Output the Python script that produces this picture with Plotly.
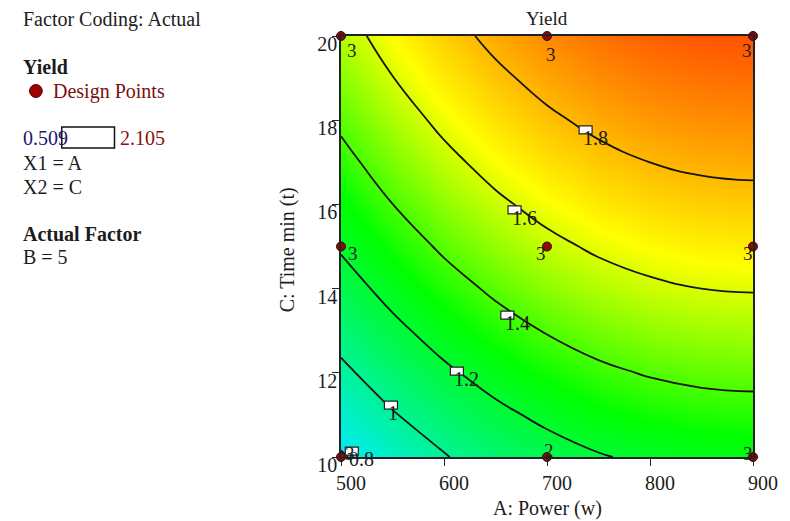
import plotly.graph_objects as go

# ---------------- data ----------------
power_vals = [500, 550, 600, 650, 700, 750, 800, 850, 900]          # A: Power (w)
time_vals = [10, 11, 12, 13, 14, 15, 16, 17, 18, 19, 20]            # C: Time min (t)
# Yield surface (rows = time, cols = power)
yield_grid = [
    [0.785, 0.895, 0.991, 1.072, 1.138, 1.190, 1.226, 1.248, 1.256],
    [0.879, 0.989, 1.085, 1.166, 1.232, 1.284, 1.320, 1.342, 1.350],
    [0.969, 1.079, 1.175, 1.256, 1.322, 1.374, 1.410, 1.432, 1.440],
    [1.055, 1.165, 1.261, 1.342, 1.408, 1.460, 1.496, 1.518, 1.526],
    [1.137, 1.247, 1.343, 1.424, 1.490, 1.542, 1.578, 1.600, 1.608],
    [1.215, 1.325, 1.421, 1.502, 1.568, 1.620, 1.656, 1.678, 1.686],
    [1.289, 1.399, 1.495, 1.576, 1.642, 1.694, 1.730, 1.752, 1.760],
    [1.359, 1.469, 1.565, 1.646, 1.712, 1.764, 1.800, 1.822, 1.830],
    [1.425, 1.535, 1.631, 1.712, 1.778, 1.830, 1.866, 1.888, 1.896],
    [1.487, 1.597, 1.693, 1.774, 1.840, 1.892, 1.928, 1.950, 1.958],
    [1.545, 1.655, 1.751, 1.832, 1.898, 1.950, 1.986, 2.008, 2.016],
]
yield_min, yield_max = 0.509, 2.105
contour_levels = [0.8, 1.0, 1.2, 1.4, 1.6, 1.8]
contour_label_text = ["0.8", "1", "1.2", "1.4", "1.6", "1.8"]
contour_label_power = [510, 548, 612, 661, 668, 737]
contour_label_time = [10.14, 11.23, 12.04, 13.37, 15.87, 17.77]

design_power = [500, 700, 900, 500, 700, 900, 500, 700, 900]
design_time = [20, 20, 20, 15, 15, 15, 10, 10, 10]
design_reps = [3, 3, 3, 3, 3, 3, 3, 2, 3]
x_ticks = [500, 600, 700, 800, 900]
y_ticks = [10, 12, 14, 16, 18, 20]

# ---------------- style ----------------
FONT = "Liberation Serif"
TXT = "#1c1c1c"
W, H = 790, 521
L, R, T, B = 341, 763, 36, 457


def px(xp):
    return (xp - L) / (R - L)


def py(yp):
    return (B - yp) / (B - T)


colorscale = [
    [0.0, "rgb(0,0,255)"],
    [0.17, "rgb(0,235,255)"],
    [0.496, "rgb(0,255,0)"],
    [0.715, "rgb(255,255,0)"],
    [1.0, "rgb(255,40,0)"],
]

fig = go.Figure()
fig.add_trace(go.Heatmap(
    x=power_vals, y=time_vals, z=yield_grid, zsmooth="best",
    colorscale=colorscale, zmin=yield_min, zmax=yield_max,
    showscale=False, hoverinfo="skip"))
fig.add_trace(go.Contour(
    x=power_vals, y=time_vals, z=yield_grid,
    contours=dict(start=contour_levels[0], end=contour_levels[-1],
                  size=0.2, coloring="none"),
    line=dict(color="#151515", width=1.8, smoothing=1.3),
    showscale=False, hoverinfo="skip"))

# design points
fig.add_trace(go.Scatter(
    x=design_power, y=design_time, mode="markers",
    marker=dict(color="#8b0a0a", size=9, line=dict(color="#3a0505", width=1)),
    cliponaxis=False, showlegend=False, hoverinfo="skip"))

shapes = []
annotations = []

# contour label boxes and text
for xa, yc, t in zip(contour_label_power, contour_label_time, contour_label_text):
    shapes.append(dict(type="rect", xref="x", yref="y", xsizemode="pixel",
                       ysizemode="pixel", xanchor=xa, yanchor=yc,
                       x0=-6, x1=7, y0=-4, y1=4,
                       fillcolor="white", line=dict(color="#222", width=1.2)))
    annotations.append(dict(x=xa, y=yc, xref="x", yref="y", text=t,
                            showarrow=False, xanchor="left", yanchor="middle",
                            xshift=-4, yshift=-8,
                            font=dict(family=FONT, size=20, color=TXT)))

# replicate labels near design points
rep_offsets = [(11, -14), (4, -18), (-6, -14), (12, -7), (-6, -7), (-5, -7),
               (9, 4), (2, 7), (-5, 4)]
for xa, yc, n, (dx, dy) in zip(design_power, design_time, design_reps, rep_offsets):
    annotations.append(dict(x=xa, y=yc, xref="x", yref="y", text=str(n),
                            showarrow=False, xanchor="center", yanchor="middle",
                            xshift=dx, yshift=dy,
                            font=dict(family=FONT, size=19, color="#2a1a1a")))

# title and axis titles
annotations.append(dict(x=0.5, y=py(18), xref="paper", yref="paper", text="Yield",
                        showarrow=False, xanchor="center", yanchor="middle",
                        font=dict(family=FONT, size=19, color=TXT)))
annotations.append(dict(x=px(552), y=py(508), xref="paper", yref="paper",
                        text="A: Power (w)", showarrow=False, xanchor="center",
                        yanchor="middle", font=dict(family=FONT, size=20, color=TXT)))
annotations.append(dict(x=px(286), y=py(250), xref="paper", yref="paper",
                        text="C: Time min (t)", showarrow=False, textangle=-90,
                        xanchor="center", yanchor="middle",
                        font=dict(family=FONT, size=20, color=TXT)))

# left info panel
panel = [
    (13, 19, "Factor Coding: Actual", TXT),
    (13, 67, "<b>Yield</b>", TXT),
    (44, 91, "Design Points", "#7a1010"),
    (13, 138, "0.509", "#1a1a70"),
    (113, 138, "2.105", "#8b1010"),
    (13, 163, "X1 = A", TXT),
    (13, 187, "X2 = C", TXT),
    (13, 234, "<b>Actual Factor</b>", TXT),
    (13, 257, "B = 5", TXT),
]
for xp, yp, t, c in panel:
    annotations.append(dict(x=px(xp), y=py(yp), xref="paper", yref="paper", text=t,
                            showarrow=False, xanchor="left", yanchor="middle",
                            font=dict(family=FONT, size=20, color=c)))

shapes.append(dict(type="circle", xref="paper", yref="paper",
                   x0=px(22), x1=px(35), y0=py(97.5), y1=py(84.5),
                   fillcolor="#a00000", line=dict(color="#500000", width=1)))
shapes.append(dict(type="rect", xref="paper", yref="paper",
                   x0=px(55), x1=px(109), y0=py(148), y1=py(127),
                   fillcolor="white", line=dict(color="#111", width=1.5)))

axis_common = dict(showline=True, mirror=True, linecolor="#222", linewidth=1.5,
                   showgrid=False, zeroline=False, ticks="outside", ticklen=7,
                   tickcolor="#222", tickwidth=1.2,
                   tickfont=dict(family=FONT, size=20, color=TXT))

fig.update_layout(
    width=W, height=H,
    margin=dict(l=L, r=W - R, t=T, b=H - B, pad=0),
    paper_bgcolor="white", plot_bgcolor="white",
    showlegend=False,
    xaxis=dict(range=[500, 900], tickvals=x_ticks, ticklabelshift=10,
               **axis_common),
    yaxis=dict(range=[10, 20], tickvals=y_ticks, ticklabelshift=8,
               ticklabelstandoff=-9, **axis_common),
    shapes=shapes, annotations=annotations,
)

fig.write_html("out.html")
